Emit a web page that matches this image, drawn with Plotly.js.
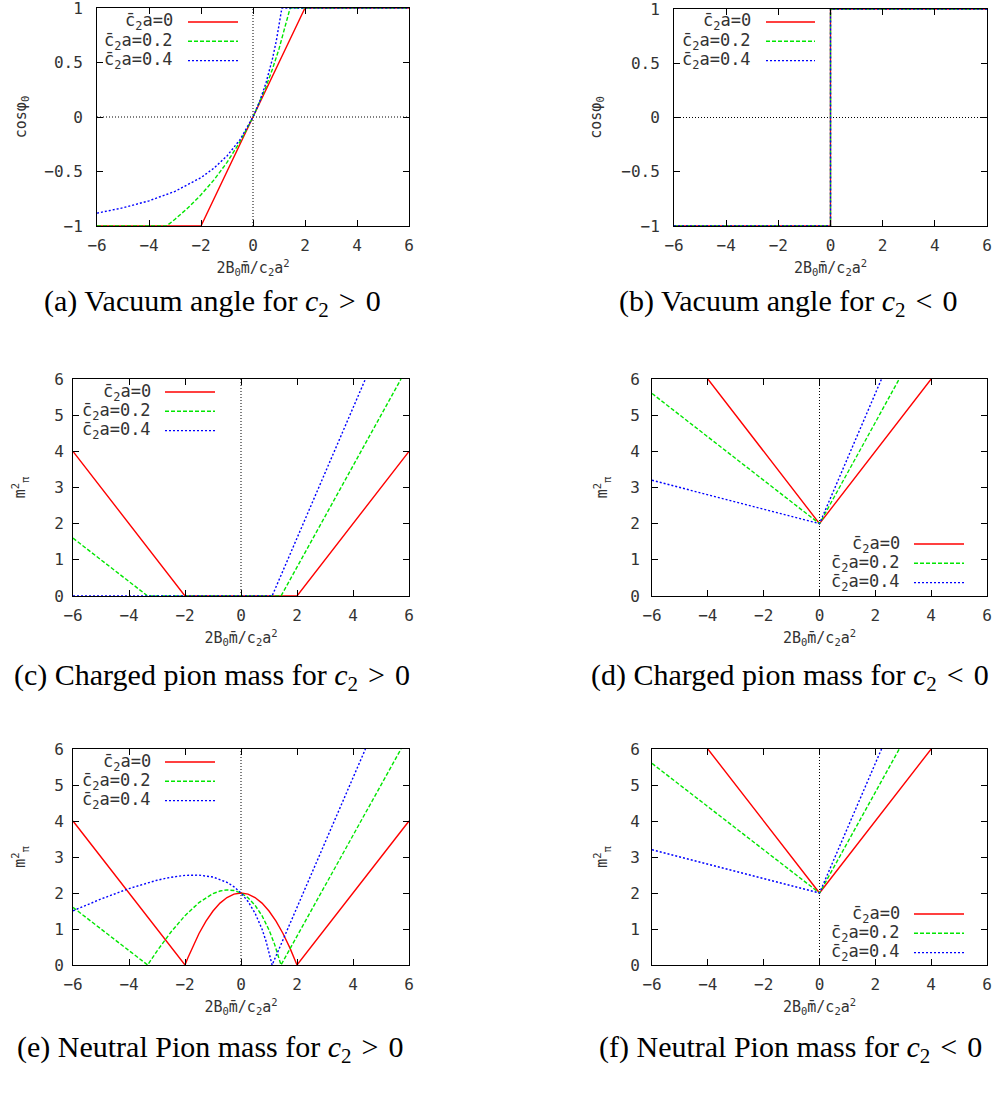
<!DOCTYPE html>
<html>
<head>
<meta charset="utf-8">
<script src="https://cdn.plot.ly/plotly-3.0.1.min.js"></script>
<style>html,body{margin:0;padding:0;background:#fff;}#plot{width:1001px;height:1097px;}</style>
</head>
<body>
<div id="plot"></div>
<script>
// ---------- data ----------
const xTicks = [-6, -4, -2, 0, 2, 4, 6];
const yTicksCos = [-1, -0.5, 0, 0.5, 1];
const yTicksMass = [0, 1, 2, 3, 4, 5, 6];
const seriesNames = ["c\u0304<sub>2</sub>a=0", "c\u0304<sub>2</sub>a=0.2", "c\u0304<sub>2</sub>a=0.4"];
const captions = [
  "(a) Vacuum angle for <i>c</i><sub>2</sub>\u2004&gt;\u20040",
  "(b) Vacuum angle for <i>c</i><sub>2</sub>\u2004&lt;\u20040",
  "(c) Charged pion mass for <i>c</i><sub>2</sub>\u2004&gt;\u20040",
  "(d) Charged pion mass for <i>c</i><sub>2</sub>\u2004&lt;\u20040",
  "(e) Neutral Pion mass for <i>c</i><sub>2</sub>\u2004&gt;\u20040",
  "(f) Neutral Pion mass for <i>c</i><sub>2</sub>\u2004&lt;\u20040"
];

// (a) cos(phi0), c2 > 0
const aRedX = [-6, -2, 2, 6];
const aRedY = [-1, -1, 1, 1];
const aGreenX = [-6, -3.333, -3.2, -3, -2.5, -2, -1.5, -1, -0.5, 0, 0.5, 0.75, 1, 1.25, 1.35, 1.429, 6];
const aGreenY = [-1, -1, -0.976, -0.938, -0.833, -0.714, -0.577, -0.417, -0.227, 0, 0.278, 0.441, 0.625, 0.833, 0.925, 1, 1];
const aBlueX = [-6, -5, -4, -3, -2, -1.5, -1, -0.5, 0, 0.25, 0.5, 0.75, 0.9, 1, 1.05, 1.111, 6];
const aBlueY = [-0.882, -0.833, -0.769, -0.682, -0.556, -0.469, -0.357, -0.208, 0, 0.139, 0.313, 0.536, 0.703, 0.833, 0.905, 1, 1];

// (b) cos(phi0), c2 < 0
const bRedX = [-6, 0, 0, 6];
const bRedY = [-1, -1, 1, 1];
const bGreenX = [-6, 0, 0, 6];
const bGreenY = [-1, -1, 1, 1];
const bBlueX = [-6, 0, 0, 6];
const bBlueY = [-1, -1, 1, 1];

// (c) charged pion mass, c2 > 0
const cRedX = [-6, -2, 2, 6];
const cRedY = [4, 0, 0, 4];
const cGreenX = [-6, -3.333, 1.429, 5.714];
const cGreenY = [1.6, 0, 0, 6];
const cBlueX = [-6, 1.111, 4.444];
const cBlueY = [0, 0, 6];

// (d) charged pion mass, c2 < 0
const dRedX = [-4, 0, 4];
const dRedY = [6, 2, 6];
const dGreenX = [-6, 0, 2.857];
const dGreenY = [5.6, 2, 6];
const dBlueX = [-6, 0, 2.222];
const dBlueY = [3.2, 2, 6];

// (e) neutral pion mass, c2 > 0
const eRedX = [-6, -2, -1.9, -1.75, -1.5, -1.25, -1, -0.75, -0.5, -0.25, 0, 0.25, 0.5, 0.75, 1, 1.25, 1.5, 1.75, 1.9, 2, 6];
const eRedY = [4, 0, 0.195, 0.469, 0.875, 1.219, 1.5, 1.719, 1.875, 1.969, 2, 1.969, 1.875, 1.719, 1.5, 1.219, 0.875, 0.469, 0.195, 0, 4];
const eGreenX = [-6, -3.333, -3.25, -3.1, -3, -2.5, -2, -1.5, -1, -0.75, -0.5, -0.25, 0, 0.25, 0.5, 0.75, 1, 1.2, 1.3, 1.4, 1.429, 5.714];
const eGreenY = [1.6, 0, 0.099, 0.274, 0.388, 0.917, 1.371, 1.735, 1.983, 2.055, 2.086, 2.070, 2, 1.867, 1.661, 1.369, 0.975, 0.573, 0.338, 0.079, 0, 6];
const eBlueX = [-6, -5, -4, -3, -2.5, -2, -1.5, -1, -0.5, -0.25, 0, 0.25, 0.5, 0.75, 0.9, 1, 1.05, 1.111, 4.444];
const eBlueY = [1.506, 1.833, 2.123, 2.355, 2.438, 2.489, 2.497, 2.443, 2.296, 2.172, 2, 1.765, 1.444, 0.998, 0.647, 0.367, 0.21, 0, 6];

// (f) neutral pion mass, c2 < 0
const fRedX = [-4, 0, 4];
const fRedY = [6, 2, 6];
const fGreenX = [-6, 0, 2.857];
const fGreenY = [5.6, 2, 6];
const fBlueX = [-6, 0, 2.222];
const fBlueY = [3.2, 2, 6];

// ---------- styling / layout ----------
const W = 1001, H = 1097;
const px = v => v / W;
const py = v => 1 - v / H;
const monoFont = "DejaVu Sans Mono";
const tickFont = {family: monoFont, size: 16, color: "#333"};
const styles = [
  {color: "#ff0000", width: 1.4, dash: "solid"},
  {color: "#00e600", width: 1.4, dash: "4px,2px"},
  {color: "#0000ff", width: 1.4, dash: "2px,2px"}
];

// plot areas in pixels: [left, right, top, bottom]
const boxes = [
  [97, 409, 8, 226],
  [674, 987, 9, 226],
  [73, 409, 379, 596],
  [652, 987, 379, 596],
  [73, 409, 749, 965],
  [652, 987, 749, 965]
];
const panelData = [
  [[aRedX, aRedY], [aGreenX, aGreenY], [aBlueX, aBlueY]],
  [[bRedX, bRedY], [bGreenX, bGreenY], [bBlueX, bBlueY]],
  [[cRedX, cRedY], [cGreenX, cGreenY], [cBlueX, cBlueY]],
  [[dRedX, dRedY], [dGreenX, dGreenY], [dBlueX, dBlueY]],
  [[eRedX, eRedY], [eGreenX, eGreenY], [eBlueX, eBlueY]],
  [[fRedX, fRedY], [fGreenX, fGreenY], [fBlueX, fBlueY]]
];
const yTitles = ["cos\u03c6<sub>0</sub>", "cos\u03c6<sub>0</sub>",
  "m<sup>2</sup><sub>\u03c0</sub>", "m<sup>2</sup><sub>\u03c0</sub>",
  "m<sup>2</sup><sub>\u03c0</sub>", "m<sup>2</sup><sub>\u03c0</sub>"];
const yStandoff = [14, 16, 24, 18, 24, 18];
const yLabelStandoff = [10, 10, 5, 8, 5, 8];
const xTitle = "2B<sub>0</sub>m\u0304/c<sub>2</sub>a<sup>2</sup>";
// legend: [text right edge px, first row y px, sample x0, sample x1]
const legendPos = [
  [175, 22, 188, 238],
  [753, 22, 766, 815],
  [153, 392, 165, 215],
  [902, 544, 914, 964],
  [153, 762, 165, 215],
  [902, 914, 914, 964]
];
const captionPos = [[212, 303], [788, 303], [212, 677], [790, 677], [210, 1049], [790, 1049]];

const traces = [];
const layout = {
  width: W, height: H,
  margin: {l: 0, r: 0, t: 0, b: 0},
  paper_bgcolor: "#fff", plot_bgcolor: "#fff",
  showlegend: false,
  shapes: [], annotations: []
};

boxes.forEach((b, i) => {
  const n = i + 1;
  const xa = n === 1 ? "x" : "x" + n;
  const ya = n === 1 ? "y" : "y" + n;
  const isCos = i < 2;
  layout["xaxis" + (n === 1 ? "" : n)] = {
    domain: [px(b[0]), px(b[1])], anchor: ya,
    range: [-6, 6], tickmode: "array", tickvals: xTicks,
    showline: true, mirror: "ticks", linecolor: "#000", linewidth: 1,
    ticks: "inside", ticklen: 6, tickcolor: "#000",
    showgrid: false, zeroline: false, fixedrange: true,
    tickfont: tickFont, ticklabelstandoff: 5, ticklabeloverflow: "allow",
    title: {text: xTitle, font: {family: monoFont, size: 15, color: "#333"}, standoff: 8}
  };
  layout["yaxis" + (n === 1 ? "" : n)] = {
    domain: [py(b[3]), py(b[2])], anchor: xa,
    range: isCos ? [-1, 1] : [0, 6], tickmode: "array", tickvals: isCos ? yTicksCos : yTicksMass,
    showline: true, mirror: "ticks", linecolor: "#000", linewidth: 1,
    ticks: "inside", ticklen: 6, tickcolor: "#000",
    showgrid: false, zeroline: false, fixedrange: true,
    tickfont: tickFont, ticklabelstandoff: yLabelStandoff[i], ticklabeloverflow: "allow",
    title: {text: yTitles[i], font: {family: monoFont, size: 15, color: "#333"}, standoff: yStandoff[i]}
  };
  // zero axes (dotted)
  layout.shapes.push({type: "line", layer: "below", xref: xa, yref: ya + " domain",
    x0: 0, x1: 0, y0: 0, y1: 1, line: {color: "#000", width: 1, dash: "1px,2px"}});
  if (isCos) {
    layout.shapes.push({type: "line", layer: "below", xref: xa + " domain", yref: ya,
      x0: 0, x1: 1, y0: 0, y1: 0, line: {color: "#000", width: 1, dash: "1px,2px"}});
  }
  // traces
  panelData[i].forEach((d, k) => {
    traces.push({
      type: "scatter", mode: "lines", x: d[0], y: d[1],
      xaxis: xa, yaxis: ya, name: seriesNames[k],
      line: {color: styles[k].color, width: styles[k].width, dash: styles[k].dash},
      hoverinfo: "skip"
    });
  });
  // legend (gnuplot style: text then sample)
  const lp = legendPos[i];
  seriesNames.forEach((s, k) => {
    const yy = lp[1] + k * 19.3;
    layout.annotations.push({xref: "paper", yref: "paper", x: px(lp[0]), y: py(yy),
      xanchor: "right", yanchor: "middle", showarrow: false, text: s,
      font: {family: monoFont, size: 17, color: "#333"}});
    layout.shapes.push({type: "line", xref: "paper", yref: "paper",
      x0: px(lp[2]), x1: px(lp[3]), y0: py(yy), y1: py(yy),
      line: {color: styles[k].color, width: styles[k].width, dash: styles[k].dash}});
  });
  // caption
  const cp = captionPos[i];
  layout.annotations.push({xref: "paper", yref: "paper", x: px(cp[0]), y: py(cp[1]),
    xanchor: "center", yanchor: "middle", showarrow: false, text: captions[i],
    font: {family: "Liberation Serif", size: 30, color: "#000"}});
});

Plotly.newPlot("plot", traces, layout, {staticPlot: true, displayModeBar: false});
</script>
</body>
</html>
